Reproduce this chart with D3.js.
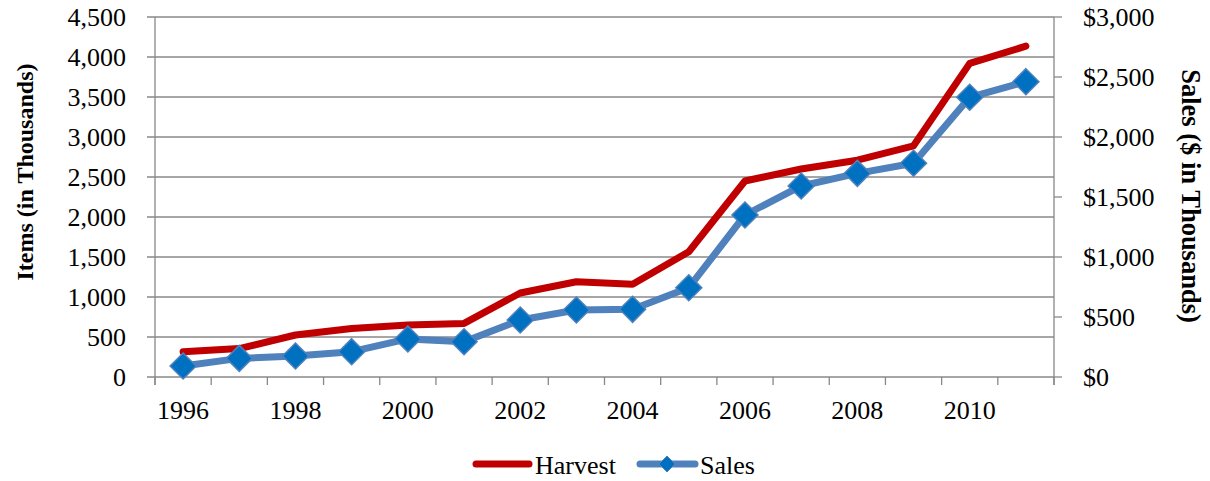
<!DOCTYPE html>
<html>
<head>
<meta charset="utf-8">
<script src="https://cdn.jsdelivr.net/npm/d3@7"></script>
<style>
  html, body { margin: 0; padding: 0; background: #fff; }
  svg { display: block; }
  text { font-family: "Liberation Serif", "Times New Roman", serif; fill: #000; }
</style>
</head>
<body>
<svg id="chart" width="1210" height="481"></svg>
<script>
const years = [1996,1997,1998,1999,2000,2001,2002,2003,2004,2005,2006,2007,2008,2009,2010,2011];
const harvest = [315,355,525,605,650,670,1050,1190,1160,1565,2450,2600,2710,2890,3920,4135];
const sales = [92,155,175,211,317,294,475,558,564,744,1350,1592,1697,1781,2331,2461];
const leftTicks = [0,500,1000,1500,2000,2500,3000,3500,4000,4500];
const rightTicks = [0,500,1000,1500,2000,2500,3000];
const xLabelYears = [1996,1998,2000,2002,2004,2006,2008,2010];

const svg = d3.select("#chart");
const L = 155, R = 1054, T = 17, B = 377;
const gridColor = "#888888";

const x = d3.scaleBand().domain(years).range([L, R]).padding(0);
const cx = d => x(d) + x.bandwidth() / 2;
const yL = d3.scaleLinear().domain([0, 4500]).range([B, T]);
const yR = d3.scaleLinear().domain([0, 3000]).range([B, T]);

// gridlines + left ticks
svg.append("g").selectAll("line").data(leftTicks).join("line")
  .attr("x1", L - 8).attr("x2", R)
  .attr("y1", d => yL(d)).attr("y2", d => yL(d))
  .attr("stroke", gridColor).attr("stroke-width", 1.3);

// left axis line
svg.append("line").attr("x1", L).attr("x2", L).attr("y1", T).attr("y2", B + 8)
  .attr("stroke", gridColor).attr("stroke-width", 1.3);
// right axis line
svg.append("line").attr("x1", R).attr("x2", R).attr("y1", T).attr("y2", B + 8)
  .attr("stroke", gridColor).attr("stroke-width", 1.3);
// right ticks
svg.append("g").selectAll("line").data(rightTicks).join("line")
  .attr("x1", R).attr("x2", R + 8)
  .attr("y1", d => yR(d)).attr("y2", d => yR(d))
  .attr("stroke", gridColor).attr("stroke-width", 1.3);

// x ticks at band boundaries
const bounds = years.map(d => x(d)).concat([R]);
svg.append("g").selectAll("line").data(bounds).join("line")
  .attr("x1", d => d).attr("x2", d => d)
  .attr("y1", B).attr("y2", B + 8)
  .attr("stroke", gridColor).attr("stroke-width", 1.3);

const fmt = d3.format(",");
// left labels
svg.append("g").selectAll("text").data(leftTicks).join("text")
  .attr("x", 126).attr("y", d => yL(d)).attr("dy", "0.33em")
  .attr("text-anchor", "end").attr("font-size", 26)
  .text(d => fmt(d));
// right labels
svg.append("g").selectAll("text").data(rightTicks).join("text")
  .attr("x", 1083).attr("y", d => yR(d)).attr("dy", "0.33em")
  .attr("text-anchor", "start").attr("font-size", 26)
  .text(d => "$" + fmt(d));
// x labels
svg.append("g").selectAll("text").data(xLabelYears).join("text")
  .attr("x", d => cx(d)).attr("y", 419)
  .attr("text-anchor", "middle").attr("font-size", 26)
  .text(d => d);

// axis titles
svg.append("text")
  .attr("transform", `translate(33,172) rotate(-90)`)
  .attr("text-anchor", "middle").attr("font-size", 24).attr("font-weight", "bold")
  .text("Items (in Thousands)");
svg.append("text")
  .attr("transform", `translate(1182,196) rotate(90)`)
  .attr("text-anchor", "middle").attr("font-size", 26.5).attr("font-weight", "bold")
  .text("Sales ($ in Thousands)");

// lines
const lineH = d3.line().x((d, i) => cx(years[i])).y(d => yL(d));
const lineS = d3.line().x((d, i) => cx(years[i])).y(d => yR(d));

svg.append("path").datum(harvest).attr("d", lineH)
  .attr("fill", "none").attr("stroke", "#C00000").attr("stroke-width", 7)
  .attr("stroke-linejoin", "round").attr("stroke-linecap", "round");

svg.append("path").datum(sales).attr("d", lineS)
  .attr("fill", "none").attr("stroke", "#4F81BD").attr("stroke-width", 7)
  .attr("stroke-linejoin", "round");

const diamond = (cxv, cyv, r) => `M${cxv},${cyv - r}L${cxv + r},${cyv}L${cxv},${cyv + r}L${cxv - r},${cyv}Z`;
svg.append("g").selectAll("path").data(sales).join("path")
  .attr("d", (d, i) => diamond(cx(years[i]), yR(d), 13))
  .attr("fill", "#0070C0").attr("stroke", "#4F81BD").attr("stroke-width", 1.5);

// legend
const ly = 464;
svg.append("line").attr("x1", 476).attr("x2", 529).attr("y1", ly).attr("y2", ly)
  .attr("stroke", "#C00000").attr("stroke-width", 7).attr("stroke-linecap", "round");
svg.append("text").attr("x", 535).attr("y", 474).attr("font-size", 26).text("Harvest");
svg.append("line").attr("x1", 640).attr("x2", 695).attr("y1", ly).attr("y2", ly)
  .attr("stroke", "#4F81BD").attr("stroke-width", 7).attr("stroke-linecap", "round");
svg.append("path").attr("d", diamond(667, ly, 8)).attr("fill", "#0070C0").attr("stroke", "#4F81BD").attr("stroke-width", 1);
svg.append("text").attr("x", 700).attr("y", 474).attr("font-size", 26).text("Sales");
</script>
</body>
</html>
